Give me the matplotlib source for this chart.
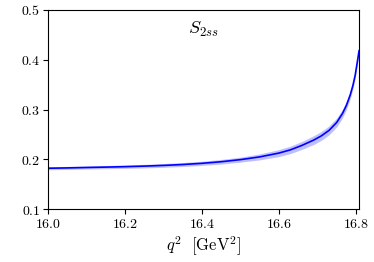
import matplotlib
matplotlib.use("Agg")
import matplotlib.pyplot as plt
import numpy as np

plt.rcParams['mathtext.fontset'] = 'cm'
plt.rcParams['font.family'] = 'serif'

# data
q2 = [16.0, 16.05, 16.1, 16.15, 16.2, 16.25, 16.3, 16.35, 16.4, 16.45,
      16.5, 16.55, 16.6, 16.63, 16.66, 16.69, 16.71, 16.73, 16.75, 16.765,
      16.775, 16.785, 16.792, 16.798, 16.803, 16.808]
s2ss = [0.182, 0.1827, 0.1835, 0.1843, 0.1852, 0.1863, 0.1877, 0.1895, 0.1919, 0.1951,
        0.1993, 0.2048, 0.2125, 0.2190, 0.2280, 0.2385, 0.2470, 0.2580, 0.2740, 0.2920,
        0.3080, 0.3290, 0.3480, 0.3690, 0.3930, 0.4180]
err = [0.003, 0.003, 0.003, 0.0032, 0.0034, 0.0036, 0.0038, 0.004, 0.0042, 0.0046,
       0.005, 0.006, 0.007, 0.0075, 0.008, 0.0088, 0.009, 0.009, 0.009, 0.0085,
       0.008, 0.0075, 0.007, 0.0065, 0.006, 0.0055]

xticks = [16.0, 16.2, 16.4, 16.6, 16.8]
yticks = [0.1, 0.2, 0.3, 0.4, 0.5]

q2 = np.array(q2)
s2ss = np.array(s2ss)
err = np.array(err)

fig = plt.figure(figsize=(3.74, 2.62), dpi=100)
ax = fig.add_axes([0.128, 0.202, 0.832, 0.760])

ax.fill_between(q2, s2ss - err, s2ss + err, color='blue', alpha=0.25, lw=0)
ax.plot(q2, s2ss, color='blue', lw=1.2)

ax.set_xlim(16.0, 16.808)
ax.set_ylim(0.1, 0.5)
ax.set_xticks(xticks)
ax.set_xticklabels(['$%.1f$' % t for t in xticks])
ax.set_yticks(yticks)
ax.set_yticklabels(['$%.1f$' % t for t in yticks])
ax.tick_params(direction='out', length=3.5, width=0.8, labelsize=10, pad=2)

ax.text(0.5, 0.9, r'$S_{2ss}$', transform=ax.transAxes, ha='center', va='center', fontsize=13)
ax.set_xlabel(r'$q^2\ \ [\mathrm{GeV}^2]$', fontsize=12, labelpad=3)

fig.savefig('out.png', dpi=100)
